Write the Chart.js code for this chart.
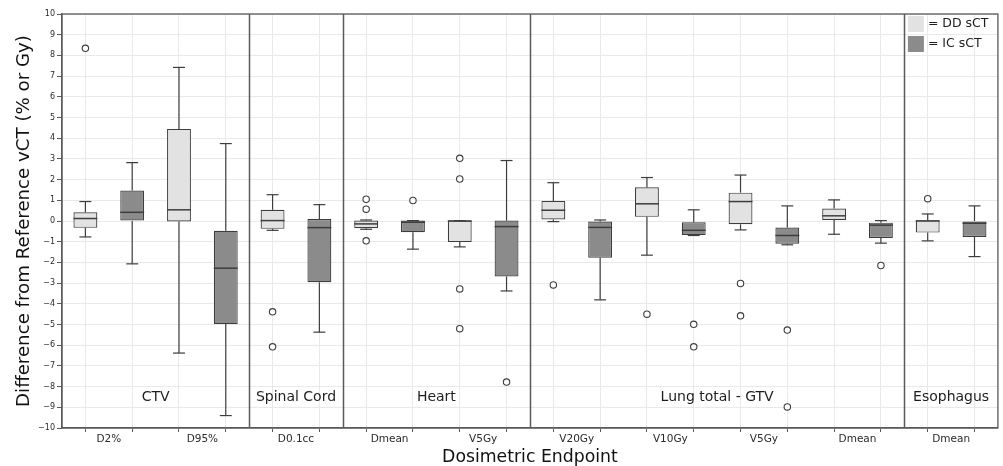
<!DOCTYPE html>
<html>
<head>
<meta charset="utf-8">
<script src="https://cdn.jsdelivr.net/npm/chart.js@4.4.1/dist/chart.umd.min.js"></script>
<style>
  html, body { margin: 0; padding: 0; background: #fff; }
</style>
</head>
<body>
<canvas id="doseChart" width="1003" height="466"></canvas>
<script>
// endpoints, grouped by structure (structureSizes = endpoints per structure)
const endpoints = ['D2%', 'D95%', 'D0.1cc', 'Dmean', 'V5Gy', 'V20Gy', 'V10Gy', 'V5Gy', 'Dmean', 'Dmean'];
const structures = ['CTV', 'Spinal Cord', 'Heart', 'Lung total - GTV', 'Esophagus'];
const structureSizes = [2, 1, 2, 4, 1];
const yTicks = [-10, 10, 1]; // min, max, step

// DD sCT boxes
const ddLow  = [-0.77, -6.38, -0.45, -0.40, -1.25, -0.03, -1.65, -0.43, -0.64, -0.96];
const ddQ1   = [-0.33, -0.02, -0.38, -0.35, -1.02,  0.07,  0.20, -0.16,  0.05, -0.56];
const ddMed  = [ 0.12,  0.54,  0.02, -0.14,  0.00,  0.52,  0.83,  0.94,  0.25,  0.00];
const ddQ3   = [ 0.42,  4.45,  0.54,  0.02,  0.02,  0.97,  1.63,  1.37,  0.60,  0.04];
const ddHigh = [ 0.94,  7.42,  1.27,  0.05,  0.02,  1.85,  2.10,  2.22,  1.02,  0.34];
const ddOut  = [[8.34], [], [-4.39, -6.08], [1.05, 0.57, -0.96], [3.03, 2.03, -3.28, -5.20],
                [-3.09], [-4.50], [-3.02, -4.58], [], [1.08]];

// IC sCT boxes
const icLow  = [-2.07, -9.40, -5.37, -1.36, -3.38, -3.81, -0.70, -1.15, -1.07, -1.72];
const icQ1   = [ 0.00, -4.98, -2.96, -0.54, -2.68, -1.77, -0.68, -1.10, -0.82, -0.77];
const icMed  = [ 0.42, -2.28, -0.32, -0.06, -0.27, -0.31, -0.45, -0.70, -0.20, -0.11];
const icQ3   = [ 1.47, -0.47,  0.10,  0.02,  0.02, -0.03, -0.06, -0.32, -0.08,  0.00];
const icHigh = [ 2.82,  3.74,  0.79,  0.02,  2.92,  0.05,  0.54,  0.73,  0.02,  0.73];
const icOut  = [[], [], [], [0.99], [-7.78], [], [-4.99, -6.08], [-5.27, -8.98], [-2.15], []];

const FONT = 'DejaVu Sans';
const EDGE = '#3d3d3d';
const AXIS = '#5a5a5a';
const GRID = '#e9e9e9';

// each endpoint takes two slots on the x axis: DD on the left, IC on the right
const xPos = (i, g) => 2 * i + g + 0.5;
const boxData = (q1, q3, g) => q1.map((v, i) => ({ x: xPos(i, g), y: [v, q3[i]] }));
const flierData = (out, g) => out.flatMap((vals, i) => vals.map(v => ({ x: xPos(i, g), y: v })));

const series = [
  { label: '= DD sCT', fill: '#e2e2e2', low: ddLow, q1: ddQ1, med: ddMed, q3: ddQ3, high: ddHigh, out: ddOut },
  { label: '= IC sCT', fill: '#8b8b8b', low: icLow, q1: icQ1, med: icMed, q3: icQ3, high: icHigh, out: icOut }
];

// whiskers, caps and medians on top of the floating bars
const boxLines = {
  id: 'boxLines',
  afterDatasetsDraw(chart) {
    const { ctx, scales: { x, y } } = chart;
    ctx.save();
    ctx.strokeStyle = EDGE;
    ctx.lineWidth = 1.2;
    series.forEach((s, g) => {
      const meta = chart.getDatasetMeta(g);
      s.med.forEach((m, i) => {
        const cx = x.getPixelForValue(xPos(i, g));
        const half = meta.data[i].width / 2;
        const cap = half / 2;
        const line = (x1, y1, x2, y2) => {
          ctx.beginPath(); ctx.moveTo(x1, y1); ctx.lineTo(x2, y2); ctx.stroke();
        };
        const q1 = y.getPixelForValue(s.q1[i]), q3 = y.getPixelForValue(s.q3[i]);
        const lo = y.getPixelForValue(s.low[i]), hi = y.getPixelForValue(s.high[i]);
        line(cx, q3, cx, hi);
        line(cx - cap, hi, cx + cap, hi);
        line(cx, q1, cx, lo);
        line(cx - cap, lo, cx + cap, lo);
        const my = y.getPixelForValue(m);
        ctx.lineWidth = 1.5;
        line(cx - half, my, cx + half, my);
        ctx.lineWidth = 1.2;
      });
    });
    ctx.restore();
  }
};

// structure dividers, structure names, frame and legend
const panels = {
  id: 'panels',
  beforeDatasetsDraw(chart) {
    const { ctx, chartArea: a, scales: { x, y } } = chart;
    ctx.save();
    ctx.font = '14px "' + FONT + '"';
    ctx.fillStyle = '#1e1e1e';
    ctx.textAlign = 'center';
    ctx.textBaseline = 'middle';
    ctx.strokeStyle = AXIS;
    ctx.lineWidth = 1.5;
    let start = 0;
    structures.forEach((name, k) => {
      const end = start + structureSizes[k] * 2;
      ctx.fillText(name, x.getPixelForValue((start + end) / 2), y.getPixelForValue(-8.5));
      if (end < endpoints.length * 2) {
        const px = Math.round(x.getPixelForValue(end)) + 0.5;
        ctx.beginPath(); ctx.moveTo(px, a.top); ctx.lineTo(px, a.bottom); ctx.stroke();
      }
      start = end;
    });
    ctx.restore();
  },
  afterDraw(chart) {
    const { ctx, chartArea: a } = chart;
    ctx.save();
    ctx.strokeStyle = AXIS;
    ctx.lineWidth = 1.3;
    ctx.strokeRect(a.left, a.top, a.right - a.left, a.bottom - a.top);
    ctx.font = '12.5px "' + FONT + '"';
    ctx.textBaseline = 'middle';
    ctx.textAlign = 'left';
    series.forEach((s, g) => {
      const lx = a.right - 90, ly = a.top + 2 + g * 20;
      ctx.fillStyle = s.fill;
      ctx.fillRect(lx, ly, 16, 16);
      ctx.fillStyle = '#1e1e1e';
      ctx.fillText(s.label, lx + 20, ly + 8);
    });
    ctx.restore();
  }
};

const datasets = series.map((s, g) => ({
  type: 'bar',
  label: s.label,
  data: boxData(s.q1, s.q3, g),
  backgroundColor: s.fill,
  borderColor: EDGE,
  borderWidth: 1.2,
  borderSkipped: false,
  grouped: false,
  categoryPercentage: 1,
  barPercentage: 1.02,
  maxBarThickness: 24,
  order: 2
})).concat(series.map((s, g) => ({
  type: 'scatter',
  label: s.label + ' outliers',
  data: flierData(s.out, g),
  pointStyle: 'circle',
  pointRadius: 3.2,
  backgroundColor: '#ffffff',
  borderColor: EDGE,
  borderWidth: 1.1,
  order: 1
})));

new Chart(document.getElementById('doseChart'), {
  type: 'bar',
  data: { datasets: datasets },
  plugins: [panels, boxLines],
  options: {
    responsive: false,
    animation: false,
    layout: { padding: { top: 14, right: 1, left: 0, bottom: 0 } },
    plugins: { legend: { display: false }, tooltip: { enabled: false } },
    scales: {
      x: {
        type: 'linear',
        min: 0,
        max: endpoints.length * 2,
        offset: false,
        afterBuildTicks(scale) {
          const t = [];
          for (let v = 0.5; v < endpoints.length * 2; v += 0.5) t.push({ value: v });
          scale.ticks = t;
        },
        afterFit(scale) { scale.height = 38; },
        grid: {
          offset: false,
          color: c => (c.tick && c.tick.value % 1 !== 0) ? GRID : 'transparent',
          tickColor: c => (c.tick && c.tick.value % 1 !== 0) ? AXIS : 'transparent',
          tickLength: 4,
          lineWidth: 1
        },
        border: { color: AXIS, width: 1.3 },
        ticks: {
          autoSkip: false,
          maxRotation: 0,
          padding: 1,
          color: '#2a2a2a',
          font: { family: FONT, size: 10.5 },
          callback: v => (v % 2 === 1) ? endpoints[(v - 1) / 2] : ''
        },
        title: {
          display: true,
          text: 'Dosimetric Endpoint',
          color: '#111',
          font: { family: FONT, size: 17.3, lineHeight: 1 },
          padding: { top: 0, bottom: 0 }
        }
      },
      y: {
        min: yTicks[0],
        max: yTicks[1],
        afterFit(scale) { scale.width = 62; },
        grid: { color: GRID, tickColor: AXIS, tickLength: 5, lineWidth: 1 },
        border: { color: AXIS, width: 1.3 },
        ticks: {
          stepSize: yTicks[2],
          padding: 2,
          color: '#2a2a2a',
          font: { family: FONT, size: 8 },
          callback: v => v < 0 ? '\u2212' + Math.abs(v) : String(v)
        },
        title: {
          display: true,
          text: 'Difference from Reference vCT (% or Gy)',
          color: '#111',
          font: { family: FONT, size: 18.2, lineHeight: 1.2 },
          padding: { top: 13, bottom: 0 }
        }
      }
    }
  }
});
</script>
</body>
</html>
